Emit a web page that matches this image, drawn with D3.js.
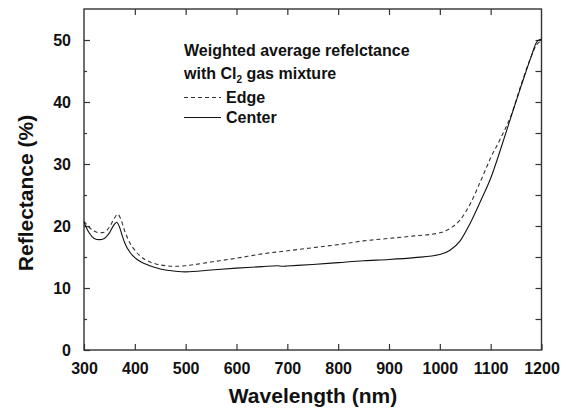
<!DOCTYPE html>
<html>
<head>
<meta charset="utf-8">
<script src="https://cdn.jsdelivr.net/npm/d3@7"></script>
<style>
  html, body { margin: 0; padding: 0; background: #fff; }
  svg { display: block; font-family: "Liberation Sans", Arial, sans-serif; font-weight: bold; }
</style>
</head>
<body>
<svg id="chart" width="569" height="410"></svg>
<script>
// ---- data ----
const edgeWavelength = [300,310,320,330,340,350,360,366,372,380,390,400,410,420,440,460,480,500,550,600,650,700,750,800,850,900,950,1000,1020,1040,1060,1080,1100,1120,1140,1160,1180,1190,1200];
const edgeReflectance = [20.8,19.8,19.2,18.9,19.0,19.8,21.3,21.9,21.2,19.2,17.3,16.1,15.2,14.6,13.9,13.6,13.5,13.6,14.2,14.8,15.5,16.0,16.5,17.0,17.6,18.0,18.4,18.9,19.6,21.0,23.6,27.2,31.0,34.2,37.8,42.8,47.4,49.2,49.8];
const centerWavelength = [300,310,320,330,340,350,360,364,370,375,380,390,400,410,420,440,460,480,500,550,600,650,680,690,700,750,800,850,900,950,1000,1020,1040,1060,1080,1100,1120,1140,1160,1180,1190,1195,1200];
const centerReflectance = [20.6,18.9,18.0,17.8,18.0,18.9,20.3,20.6,19.8,18.5,17.3,15.8,14.9,14.3,13.9,13.3,12.9,12.7,12.6,12.9,13.2,13.45,13.6,13.5,13.55,13.8,14.1,14.4,14.6,14.9,15.4,16.1,17.6,20.5,24.0,27.7,32.5,37.6,42.6,47.4,49.6,50.0,50.1];
const xTicks = [300,400,500,600,700,800,900,1000,1100,1200];
const yTicks = [0,10,20,30,40,50];
const yMinorTicks = [5,15,25,35,45];
const xTitle = "Wavelength (nm)";
const yTitle = "Reflectance (%)";
const legendTitle1 = "Weighted average refelctance";
const seriesNames = ["Edge", "Center"];

// ---- layout ----
const L = 84, R = 541.5, T = 9, B = 350;
const svg = d3.select("#chart");
const x = d3.scaleLinear().domain([300, 1200]).range([L, R]);
const y = d3.scaleLinear().domain([0, 55]).range([B, T]);
const frameColor = "#333";

// axes (inward ticks)
const gB = svg.append("g").attr("transform", `translate(0,${B})`)
  .call(d3.axisBottom(x).tickValues(xTicks).tickSizeInner(-6).tickSizeOuter(0).tickPadding(13).tickFormat(d3.format("d")));
const gT = svg.append("g").attr("transform", `translate(0,${T})`)
  .call(d3.axisTop(x).tickValues(xTicks.slice(1, -1)).tickSizeInner(-6).tickSizeOuter(0).tickFormat(""));
const gL = svg.append("g").attr("transform", `translate(${L},0)`)
  .call(d3.axisLeft(y).tickValues(yTicks).tickSizeInner(-6).tickSizeOuter(0).tickPadding(13).tickFormat(d3.format("d")));
const gLm = svg.append("g").attr("transform", `translate(${L},0)`)
  .call(d3.axisLeft(y).tickValues(yMinorTicks).tickSizeInner(-3).tickSizeOuter(0).tickFormat(""));
const gR = svg.append("g").attr("transform", `translate(${R},0)`)
  .call(d3.axisRight(y).tickValues(yTicks.concat(yMinorTicks).filter(v => v > 0)).tickSizeInner(-6).tickSizeOuter(0).tickFormat(""));

[gB, gT, gL, gLm, gR].forEach(g => {
  g.select(".domain").remove();
  g.selectAll("line").attr("stroke", frameColor).attr("stroke-width", 1.2);
  g.selectAll("text").attr("fill", "#111").style("font-size", "16px").style("font-weight", "bold")
    .style("font-family", "'Liberation Sans', Arial, sans-serif");
});
gL.selectAll("text").attr("dy", "0.36em");
gB.selectAll("text").attr("dy", "0.71em");

// frame
svg.append("rect").attr("x", L).attr("y", T).attr("width", R - L).attr("height", B - T)
  .attr("fill", "none").attr("stroke", frameColor).attr("stroke-width", 1.4);

// lines
const line = d3.line().x(d => x(d[0])).y(d => y(d[1])).curve(d3.curveMonotoneX);
const edgeData = edgeWavelength.map((w, i) => [w, edgeReflectance[i]]);
const centerData = centerWavelength.map((w, i) => [w, centerReflectance[i]]);

svg.append("path").datum(edgeData).attr("d", line)
  .attr("fill", "none").attr("stroke", "#333").attr("stroke-width", 1.1).attr("stroke-dasharray", "4,3");
svg.append("path").datum(centerData).attr("d", line)
  .attr("fill", "none").attr("stroke", "#111").attr("stroke-width", 1.1);

// axis titles
svg.append("text").attr("x", 313).attr("y", 403).attr("text-anchor", "middle")
  .style("font-size", "21px").attr("fill", "#111").text(xTitle);
svg.append("text").attr("transform", "translate(33,193) rotate(-90)").attr("text-anchor", "middle")
  .style("font-size", "21px").attr("fill", "#111").text(yTitle);

// legend
const lg = svg.append("g").style("font-size", "16px").attr("fill", "#111");
lg.append("text").attr("x", 184).attr("y", 56).text(legendTitle1);
const t2 = lg.append("text").attr("x", 184).attr("y", 79);
t2.append("tspan").text("with Cl");
t2.append("tspan").attr("dy", 4).style("font-size", "10px").text("2");
t2.append("tspan").attr("dy", -4).text(" gas mixture");

lg.append("line").attr("x1", 184).attr("x2", 221).attr("y1", 97.5).attr("y2", 97.5)
  .attr("stroke", "#333").attr("stroke-width", 1.1).attr("stroke-dasharray", "4,3");
lg.append("text").attr("x", 226).attr("y", 103).text(seriesNames[0]);
lg.append("line").attr("x1", 184).attr("x2", 221).attr("y1", 117.5).attr("y2", 117.5)
  .attr("stroke", "#111").attr("stroke-width", 1.1);
lg.append("text").attr("x", 226).attr("y", 123).text(seriesNames[1]);
</script>
</body>
</html>
